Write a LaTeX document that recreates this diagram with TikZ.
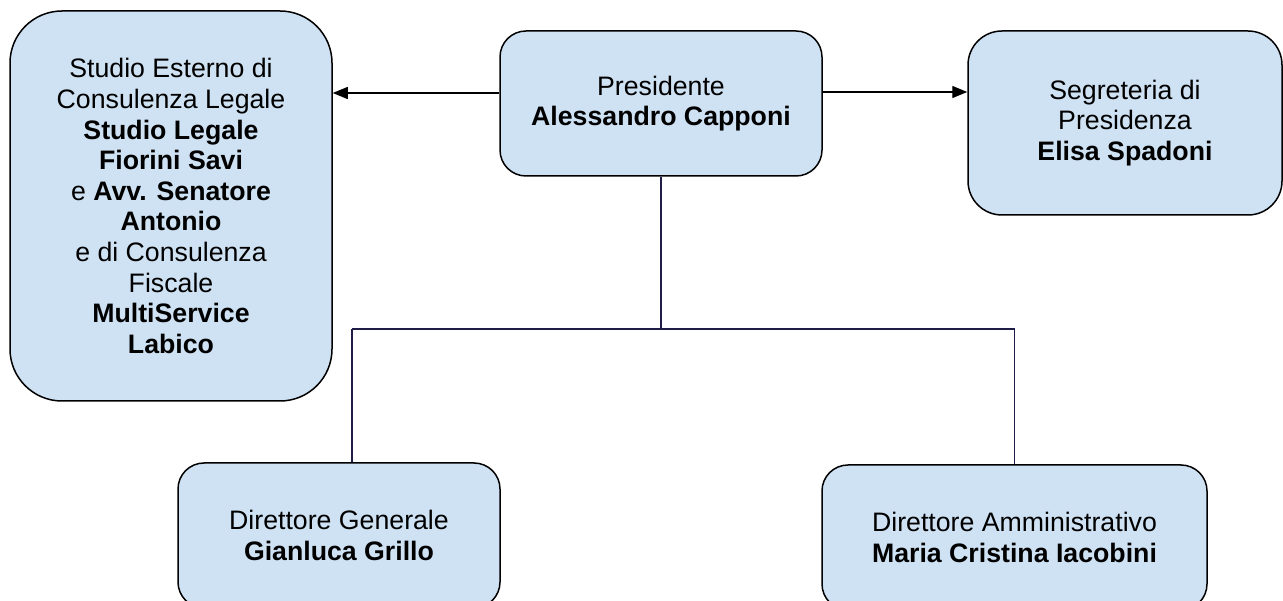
\documentclass[tikz,border=0pt]{standalone}
\usepackage{fontspec}
\setmainfont{Liberation Sans}
\usetikzlibrary{arrows.meta}
\definecolor{boxfill}{HTML}{CFE2F3}
\definecolor{treeline}{HTML}{201C48}
\tikzset{
  orgbox/.style={draw=black, line width=1.5pt, fill=boxfill, inner sep=0pt,
    align=center, font=\fontsize{26.7}{30.6}\selectfont},
  arr/.style={draw=black, line width=1.4pt, -{Triangle[length=15pt,width=12pt]}},
  tree/.style={draw=treeline, line width=1.4pt}
}
\begin{document}
\begin{tikzpicture}[x=1pt,y=-1pt]
\useasboundingbox (0,0) rectangle (1283,601);
\clip (0,0) rectangle (1283,601);
\node[orgbox, rounded corners=52pt, minimum width=322pt, minimum height=390pt] (left) at (171,206)
  {Studio Esterno di\\Consulenza Legale\\\textbf{Studio Legale}\\\textbf{Fiorini Savi}\\e \textbf{Avv. Senatore}\\\textbf{Antonio}\\e di Consulenza\\Fiscale\\\textbf{MultiService}\\\textbf{Labico}};
\node[orgbox, rounded corners=26pt, minimum width=322pt, minimum height=145pt] (pres) at (661,103.5)
  {Presidente\\\textbf{Alessandro Capponi}};
\node[orgbox, rounded corners=34pt, minimum width=314pt, minimum height=184pt] (seg) at (1125,123)
  {Segreteria di\\Presidenza\\\textbf{Elisa Spadoni}};
\node[orgbox, rounded corners=26pt, minimum width=322pt, minimum height=145pt] (dg) at (339,535.5)
  {Direttore Generale\\\textbf{Gianluca Grillo}};
\node[orgbox, rounded corners=26pt, minimum width=385pt, minimum height=145pt] (da) at (1014.5,537.5)
  {Direttore Amministrativo\\\textbf{Maria Cristina Iacobini}};
\draw[arr] ([yshift=10.5pt]pres.west) -- ([yshift=10.5pt]pres.west -| left.east);
\draw[arr] ([yshift=11.5pt]pres.east) -- ([yshift=11.5pt]pres.east -| seg.west);
\coordinate (hl) at (352,329);
\coordinate (hr) at (1014.5,329);
\draw[tree] (pres.south) -- (pres.south |- hl);
\draw[tree] (hl) -- (hr);
\draw[tree] (hl) -- (hl |- dg.north);
\draw[tree] (hr) -- (da.north);
\end{tikzpicture}
\end{document}
